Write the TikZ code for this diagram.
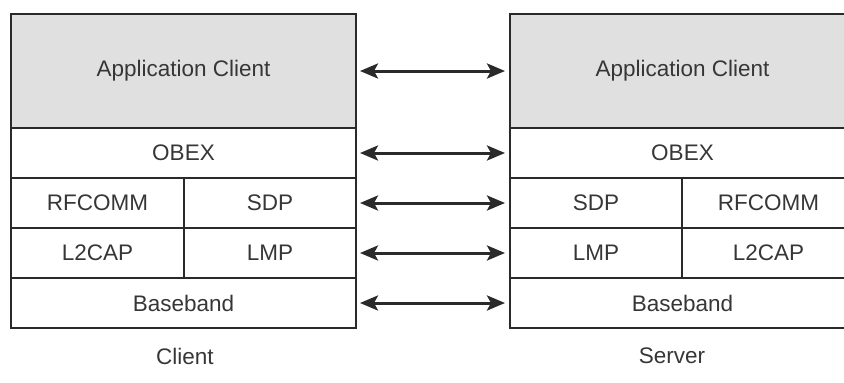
\documentclass[tikz,border=0pt]{standalone}
\usepackage{fontspec}
\setmainfont{Liberation Sans}
\usetikzlibrary{arrows.meta}
\definecolor{ln}{HTML}{2A2A2A}
\definecolor{tx}{HTML}{363636}
\definecolor{appfill}{HTML}{E0E0E0}
\begin{document}
\begin{tikzpicture}[x=1pt,y=-1pt,
  cell/.style={draw=ln, line width=2.6pt, text=tx, inner sep=0pt, outer sep=0pt,
    font=\fontsize{22.5}{26}\selectfont, anchor=north west},
  appcell/.style={cell, fill=appfill},
  link/.style={draw=ln, line width=3pt, {Stealth[length=18pt,width=15pt,inset=4pt]}-{Stealth[length=18pt,width=15pt,inset=4pt]},
    shorten <=4pt, shorten >=5pt},
  caption/.style={text=tx, font=\fontsize{22.5}{26}\selectfont}]
\useasboundingbox (0,0) rectangle (844,383);
\clip (0,0) rectangle (844,383);
% left stack (Client)
\node[appcell, minimum width=345pt, minimum height=114pt] (appL) at (11,14) {Application Client};
\node[cell, minimum width=345pt, minimum height=50pt] (obexL) at (11,128) {OBEX};
\node[cell, minimum width=173pt, minimum height=50pt] (rfL) at (11,178) {RFCOMM};
\node[cell, minimum width=172pt, minimum height=50pt] (sdpL) at (184,178) {SDP};
\node[cell, minimum width=173pt, minimum height=50pt] (l2L) at (11,228) {L2CAP};
\node[cell, minimum width=172pt, minimum height=50pt] (lmpL) at (184,228) {LMP};
\node[cell, minimum width=345pt, minimum height=50pt] (bbL) at (11,278) {Baseband};
% right stack (Server)
\node[appcell, minimum width=345pt, minimum height=114pt] (appR) at (510,14) {Application Client};
\node[cell, minimum width=345pt, minimum height=50pt] (obexR) at (510,128) {OBEX};
\node[cell, minimum width=172pt, minimum height=50pt] (sdpR) at (510,178) {SDP};
\node[cell, minimum width=173pt, minimum height=50pt] (rfR) at (682,178) {RFCOMM};
\node[cell, minimum width=172pt, minimum height=50pt] (lmpR) at (510,228) {LMP};
\node[cell, minimum width=173pt, minimum height=50pt] (l2R) at (682,228) {L2CAP};
\node[cell, minimum width=345pt, minimum height=50pt] (bbR) at (510,278) {Baseband};
% links
\draw[link] (appL.east) -- (appR.west);
\draw[link] (obexL.east) -- (obexR.west);
\draw[link] (sdpL.east) -- (sdpR.west);
\draw[link] (lmpL.east) -- (lmpR.west);
\draw[link] (bbL.east) -- (bbR.west);
% captions
\node[caption] (client) at (185,356) {Client};
\node[caption] (server) at (672,356) {Server};
\end{tikzpicture}
\end{document}
